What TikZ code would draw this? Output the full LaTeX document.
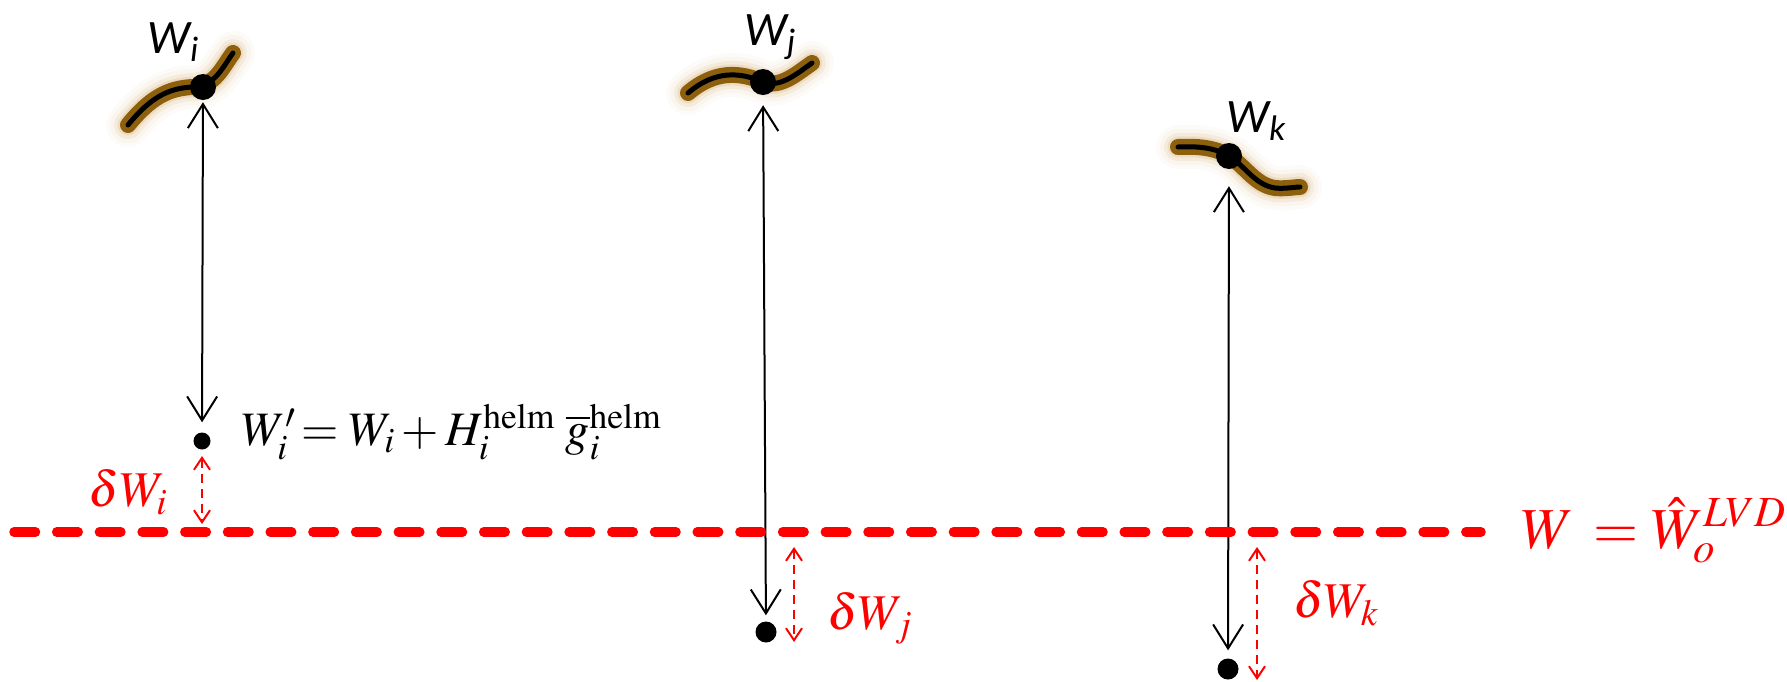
\documentclass[tikz,border=0pt]{standalone}
\usepackage{mathptmx}
\usepackage{fontspec}
\usetikzlibrary{arrows.meta}
\newfontfamily\calfont{Carlito}
\definecolor{rodbrown}{RGB}{140,96,12}
\definecolor{glow}{RGB}{200,150,70}
\definecolor{myred}{RGB}{255,0,0}
\begin{document}
\begin{tikzpicture}[x=1pt,y=-1pt,
  bigdot/.style={circle,fill=black,minimum size=26pt,inner sep=0pt},
  smalldot/.style={circle,fill=black,minimum size=17pt,inner sep=0pt},
  meddot/.style={circle,fill=black,minimum size=21pt,inner sep=0pt},
  wlab/.style={font=\calfont\itshape\fontsize{48}{54}\selectfont,inner sep=0pt},
  barrow/.style={line width=2pt,{Straight Barb[length=24pt,width=30pt,line width=2pt]}-{Straight Barb[length=24pt,width=30pt,line width=2pt]}},
  rarrow/.style={myred,line width=2pt,dash pattern=on 9pt off 6pt,{Straight Barb[length=12pt,width=16pt,line width=2pt]}-{Straight Barb[length=12pt,width=16pt,line width=2pt]}},
  redline/.style={myred,line width=9.5pt,line cap=round,dash pattern=on 21.5pt off 21.2pt},
  rlab/.style={myred,font=\fontsize{50}{56}\selectfont,inner sep=0pt},
  glowA/.style={glow,line width=44pt,line cap=round,opacity=0.04},
  glowB/.style={glow,line width=36pt,line cap=round,opacity=0.06},
  glowC/.style={glow,line width=28pt,line cap=round,opacity=0.10},
  glowD/.style={glow,line width=21pt,line cap=round,opacity=0.18},
  rodout/.style={rodbrown,line width=16pt,line cap=round},
  rodin/.style={black,line width=5pt,line cap=round}
]
\useasboundingbox (0,0) rectangle (1787,681);

% curves
\def\curvei{(128,125) .. controls (150,98) and (168,88) .. (193,87) .. controls (215,86) and (222,68) .. (233,53)}
\def\curvej{(688,93) .. controls (715,70) and (740,72) .. (763,82) .. controls (780,88) and (795,75) .. (812,63)}
\def\curvek{(1178,147) .. controls (1200,146) and (1215,148) .. (1229,156) .. controls (1245,166) and (1255,185) .. (1275,188) .. controls (1285,189) and (1295,187) .. (1300,187)}
\foreach \c in {\curvei,\curvej,\curvek}{
  \draw[glowA] \c; \draw[glowB] \c; \draw[glowC] \c; \draw[glowD] \c;
  \draw[rodout] \c; \draw[rodin] \c;
}

% nodes
\node[bigdot] (Wi) at (203,87) {};
\node[bigdot] (Wj) at (763,82) {};
\node[bigdot] (Wk) at (1229,156) {};
\node[wlab] (Li) at (173,42) {W\textsubscript{i}};
\node[wlab] (Lj) at (770,37) {W\textsubscript{j}};
\node[wlab] (Lk) at (1256,121) {W\textsubscript{k}};

\node[smalldot] (Pi) at (202,441) {};
\node[meddot] (Pj) at (766,632) {};
\node[meddot] (Pk) at (1228,669) {};

% black arrows
\draw[barrow,shorten <=2pt,shorten >=10pt] (Wi) -- (Pi);
\draw[barrow,shorten <=10pt,shorten >=6pt] (Wj) -- (Pj);
\draw[barrow,shorten <=17pt,shorten >=8pt] (Wk) -- (Pk);

% red dashed line
\coordinate (ls) at (14,532);
\coordinate (le) at (1481,532);
\draw[redline] (ls) -- (le);
\node[myred,anchor=base west,inner sep=0pt,font=\fontsize{58}{64}\selectfont] (Leq) at (1521,548) {$W\,=\hat{W}_o^{LVD}$};

% red arrows
\coordinate (ri1) at (202,456); \coordinate (ri2) at (202,524);
\coordinate (rj1) at (794,547); \coordinate (rj2) at (794,642);
\coordinate (rk1) at (1257,547); \coordinate (rk2) at (1257,680);
\draw[rarrow] (ri1) -- (ri2);
\draw[rarrow] (rj1) -- (rj2);
\draw[rarrow] (rk1) -- (rk2);
\node[rlab] (di) at (128,492) {$\delta W_i$};
\node[rlab] (dj) at (870,618) {$\delta W_j$};
\node[rlab] (dk) at (1336,603) {$\delta W_k$};

% formula
\node[anchor=west,inner sep=0pt,font=\fontsize{48}{54}\selectfont] (F) at (242,432) {$W_i'\!=W_i+H_i^{\mathrm{helm}}\;\overline{g}_i^{\mathrm{helm}}$};
\end{tikzpicture}
\end{document}
